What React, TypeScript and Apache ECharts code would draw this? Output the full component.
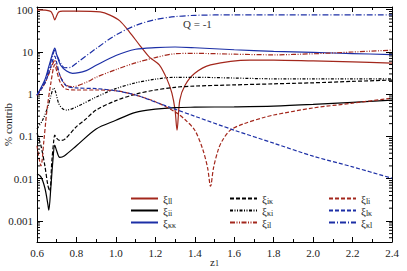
import React, { useEffect, useRef } from "react";
import * as echarts from "echarts";

// ---- data ----
const X_LL = [0.6, 0.65, 0.67, 0.68, 0.69, 0.7, 0.71, 0.73, 0.8, 0.92, 0.97, 1.02, 1.07, 1.12, 1.17, 1.22, 1.26, 1.284, 1.3, 1.31, 1.324, 1.35, 1.4, 1.48, 1.68, 1.8, 2.0, 2.2, 2.4];
const Y_LL = [98, 96, 90, 75, 57, 72, 88, 92, 92, 88, 74, 54, 29, 14.5, 7.5, 4.9, 2.2, 1.05, 0.42, 0.14, 0.72, 1.6, 3.1, 4.9, 6.4, 6.4, 6.1, 5.8, 5.4];

const X_II = [0.6, 0.62, 0.64, 0.655, 0.66, 0.67, 0.68, 0.69, 0.7, 0.715, 0.74, 0.8, 0.9, 1.0, 1.1, 1.2, 1.3, 1.4, 1.6, 1.8, 2.0, 2.2, 2.4];
const Y_II = [0.013, 0.011, 0.006, 0.0025, 0.0018, 0.006, 0.025, 0.062, 0.045, 0.032, 0.035, 0.06, 0.15, 0.24, 0.37, 0.44, 0.48, 0.49, 0.5, 0.52, 0.57, 0.64, 0.72];

const X_KK = [0.6, 0.64, 0.66, 0.68, 0.69, 0.7, 0.72, 0.75, 0.78, 0.85, 0.9, 1.0, 1.1, 1.2, 1.3, 1.4, 1.6, 1.8, 2.0, 2.2, 2.4];
const Y_KK = [0.95, 2.2, 4.5, 9.5, 12.3, 8.5, 4.8, 3.5, 3.1, 3.6, 4.8, 8.2, 11.5, 12.6, 13, 12.5, 11.2, 10.3, 9.7, 9.1, 8.6];

const X_IK = [0.6, 0.62, 0.64, 0.655, 0.665, 0.675, 0.685, 0.69, 0.7, 0.715, 0.74, 0.8, 0.84, 0.9, 1.0, 1.1, 1.2, 1.3, 1.4, 1.6, 1.8, 2.0, 2.2, 2.4];
const Y_IK = [0.12, 0.06, 0.02, 0.007, 0.005, 0.025, 0.08, 0.107, 0.09, 0.08, 0.085, 0.17, 0.24, 0.42, 0.7, 1.0, 1.25, 1.45, 1.55, 1.65, 1.75, 1.85, 2.0, 2.15];

const X_KI = [0.6, 0.63, 0.655, 0.67, 0.685, 0.695, 0.71, 0.73, 0.75, 0.8, 0.9, 1.0, 1.1, 1.2, 1.3, 1.4, 1.6, 1.8, 2.0, 2.2, 2.4];
const Y_KI = [0.15, 0.25, 0.5, 0.9, 1.4, 1.1, 0.6, 0.45, 0.42, 0.5, 0.85, 1.35, 1.85, 2.25, 2.5, 2.5, 2.4, 2.3, 2.3, 2.3, 2.3];

const X_IL = [0.6, 0.64, 0.66, 0.68, 0.69, 0.7, 0.72, 0.75, 0.78, 0.85, 0.9, 1.0, 1.1, 1.2, 1.3, 1.4, 1.6, 1.8, 2.0, 2.2, 2.4];
const Y_IL = [0.9, 1.8, 3.0, 5.2, 6.4, 4.5, 2.5, 1.6, 1.5, 1.9, 2.5, 3.8, 5.5, 7.3, 9.0, 9.2, 8.8, 8.5, 9.0, 9.9, 11];

const X_LI = [0.6, 0.62, 0.635, 0.65, 0.67, 0.69, 0.7, 0.72, 0.75, 0.8, 0.9, 1.0, 1.1, 1.2, 1.3, 1.35, 1.4, 1.44, 1.465, 1.48, 1.495, 1.52, 1.54, 1.58, 1.65, 1.75, 1.8, 2.0, 2.2, 2.4];
const Y_LI = [0.06, 0.02, 0.08, 0.4, 1.8, 5.0, 3.5, 1.8, 1.3, 1.25, 1.25, 1.2, 0.95, 0.66, 0.38, 0.25, 0.14, 0.05, 0.018, 0.0066, 0.018, 0.05, 0.08, 0.14, 0.2, 0.28, 0.32, 0.47, 0.61, 0.8];

const X_LK = [0.6, 0.64, 0.66, 0.68, 0.69, 0.7, 0.72, 0.75, 0.8, 0.9, 1.0, 1.1, 1.2, 1.3, 1.4, 1.6, 1.8, 2.0, 2.2, 2.4];
const Y_LK = [0.95, 1.8, 3.2, 6.4, 7.9, 5.5, 2.5, 1.55, 1.4, 1.35, 1.2, 0.95, 0.65, 0.44, 0.3, 0.14, 0.069, 0.034, 0.019, 0.0102];

const X_KL = [0.6, 0.64, 0.66, 0.68, 0.69, 0.7, 0.72, 0.74, 0.77, 0.8, 0.9, 1.0, 1.1, 1.2, 1.3, 1.4, 1.6, 2.0, 2.4];
const Y_KL = [0.95, 2.0, 4.0, 8.4, 11, 8.5, 5.4, 4.2, 4.3, 5.4, 12, 25, 42, 58, 68, 73, 75, 75, 75];

const X_TICK_LABELS = ["0.6", "0.8", "1.0", "1.2", "1.4", "1.6", "1.8", "2.0", "2.2", "2.4"];
const Y_MINOR_MULTIPLIERS = [2, 3, 4, 5, 6, 7, 8, 9];
const Y_DECADES = [0.0001, 0.001, 0.01, 0.1, 1, 10, 100];

const RED = "#a3271c";
const BLUE = "#1c2fa6";
const BLACK = "#000000";

const SERIES_DEF = [
  { name: "ξll", xs: X_LL, ys: Y_LL, color: RED, dash: "solid" as any },
  { name: "ξii", xs: X_II, ys: Y_II, color: BLACK, dash: "solid" as any },
  { name: "ξκκ", xs: X_KK, ys: Y_KK, color: BLUE, dash: "solid" as any },
  { name: "ξiκ", xs: X_IK, ys: Y_IK, color: BLACK, dash: [4, 2] },
  { name: "ξκi", xs: X_KI, ys: Y_KI, color: BLACK, dash: [3, 1.5, 1, 1.5, 1, 1.5] },
  { name: "ξil", xs: X_IL, ys: Y_IL, color: RED, dash: [5, 1.5, 1, 1.5, 1, 1.5] },
  { name: "ξli", xs: X_LI, ys: Y_LI, color: RED, dash: [4, 2] },
  { name: "ξlκ", xs: X_LK, ys: Y_LK, color: BLUE, dash: [4, 2] },
  { name: "ξκl", xs: X_KL, ys: Y_KL, color: BLUE, dash: [6, 2, 1, 2] },
];

const FONT = "Liberation Serif";
const TXT = "#222";

export default function App() {
  const ref = useRef<HTMLDivElement>(null);
  useEffect(() => {
    if (!ref.current) return;
    const chart = echarts.init(ref.current, undefined, { renderer: "svg" });

    const minorVals: number[] = [];
    Y_DECADES.forEach((d) => Y_MINOR_MULTIPLIERS.forEach((m) => {
      const v = d * m;
      if (v > 0.000317 && v < 115) minorVals.push(v);
    }));

    const lineSeries = SERIES_DEF.map((s) => ({
      name: s.name,
      type: "line",
      data: s.xs.map((x, i) => [x, s.ys[i]]),
      symbol: "none",
      smooth: 0.3,
      lineStyle: { color: s.color, width: 1.2, type: s.dash },
      itemStyle: { color: s.color },
      z: 3,
    }));

    const legendRich = {
      x: { fontFamily: FONT, fontSize: 11, color: TXT, lineHeight: 13 },
      s: { fontFamily: FONT, fontSize: 8, color: TXT, verticalAlign: "bottom", lineHeight: 8 },
    };
    const mkLegend = (left: number, names: string[]) => ({
      show: true,
      orient: "vertical",
      left,
      top: 193,
      itemWidth: 27,
      itemHeight: 10,
      itemGap: 0,
      padding: 0,
      data: names,
      itemStyle: { color: "transparent", borderColor: "transparent", borderWidth: 0, opacity: 0 },
      formatter: (n: string) => `{x|ξ}{s|${n.slice(1)}}`,
      textStyle: { fontFamily: FONT, color: TXT, rich: legendRich },
    });

    const option: any = {
      animation: false,
      backgroundColor: "#fff",
      textStyle: { fontFamily: FONT },
      grid: { left: 37, right: 15, top: 7, bottom: 29, containLabel: false, outerBoundsMode: "none" },
      legend: [
        mkLegend(130, ["ξll", "ξii", "ξκκ"]),
        mkLegend(229, ["ξiκ", "ξκi", "ξil"]),
        mkLegend(328, ["ξli", "ξlκ", "ξκl"]),
      ],
      xAxis: [
        {
          type: "value",
          min: 0.6,
          max: 2.4,
          interval: 0.2,
          name: "z{s|1}",
          nameLocation: "middle",
          nameGap: 14,
          nameMoveOverlap: false,
          nameTextStyle: {
            fontFamily: FONT, fontSize: 11, color: TXT,
            rich: { s: { fontFamily: FONT, fontSize: 8, color: TXT, verticalAlign: "bottom", lineHeight: 8 } },
          },
          axisLine: { lineStyle: { color: "#000", width: 1 } },
          axisTick: { inside: true, length: 5, lineStyle: { color: "#000" } },
          minorTick: { show: true, splitNumber: 2, length: 3, lineStyle: { color: "#000" } },
          splitLine: { show: false },
          axisLabel: {
            fontFamily: FONT, fontSize: 11, color: TXT, margin: 5,
            formatter: (v: number) => X_TICK_LABELS[Math.round((v - 0.6) / 0.2)] ?? v.toFixed(1),
          },
        },
        {
          type: "value",
          position: "top",
          min: 0.6,
          max: 2.4,
          interval: 0.2,
          axisLine: { show: true, lineStyle: { color: "#000", width: 1 } },
          axisTick: { show: true, inside: true, length: 5, lineStyle: { color: "#000" } },
          minorTick: { show: true, splitNumber: 2, length: 3, lineStyle: { color: "#000" } },
          splitLine: { show: false },
          axisLabel: { show: false },
        },
      ],
      yAxis: [
        {
          type: "log",
          min: 0.000317,
          max: 115,
          name: "% contrib",
          nameLocation: "middle",
          nameGap: 24,
          nameMoveOverlap: false,
          nameTextStyle: { fontFamily: FONT, fontSize: 11, color: TXT },
          axisLine: { show: true, lineStyle: { color: "#000", width: 1 } },
          axisTick: { show: true, inside: true, length: 6, lineStyle: { color: "#000" } },
          splitLine: { show: false },
          axisLabel: {
            fontFamily: FONT, fontSize: 11, color: TXT, margin: 4,
            showMinLabel: false, showMaxLabel: false,
            formatter: (v: number) => String(v),
          },
        },
        {
          type: "log",
          position: "right",
          min: 0.000317,
          max: 115,
          axisLine: { show: true, lineStyle: { color: "#000", width: 1 } },
          axisTick: { show: true, inside: true, length: 6, lineStyle: { color: "#000" } },
          splitLine: { show: false },
          axisLabel: { show: false },
        },
      ],
      graphic: [
        {
          type: "text",
          left: 183,
          top: 18,
          style: { text: "Q = -1", fontFamily: FONT, fontSize: 11, fill: "#333" },
        },
      ],
      series: [
        ...lineSeries,
        {
          type: "custom",
          name: "minorY",
          silent: true,
          data: minorVals.map((v) => [0.6, v]),
          encode: { x: 0, y: 1 },
          renderItem: (params: any, api: any) => {
            const p = api.coord([0.6, api.value(1)]);
            const cs = params.coordSys;
            return {
              type: "group",
              children: [
                { type: "line", shape: { x1: cs.x, y1: p[1], x2: cs.x + 3, y2: p[1] }, style: { stroke: "#000", lineWidth: 1 } },
                { type: "line", shape: { x1: cs.x + cs.width - 3, y1: p[1], x2: cs.x + cs.width, y2: p[1] }, style: { stroke: "#000", lineWidth: 1 } },
              ],
            };
          },
          z: 4,
        },
      ],
    };
    chart.setOption(option);
    return () => chart.dispose();
  }, []);
  return <div ref={ref} style={{ width: 407, height: 271, position: "absolute", left: 0, top: 0 }} />;
}
